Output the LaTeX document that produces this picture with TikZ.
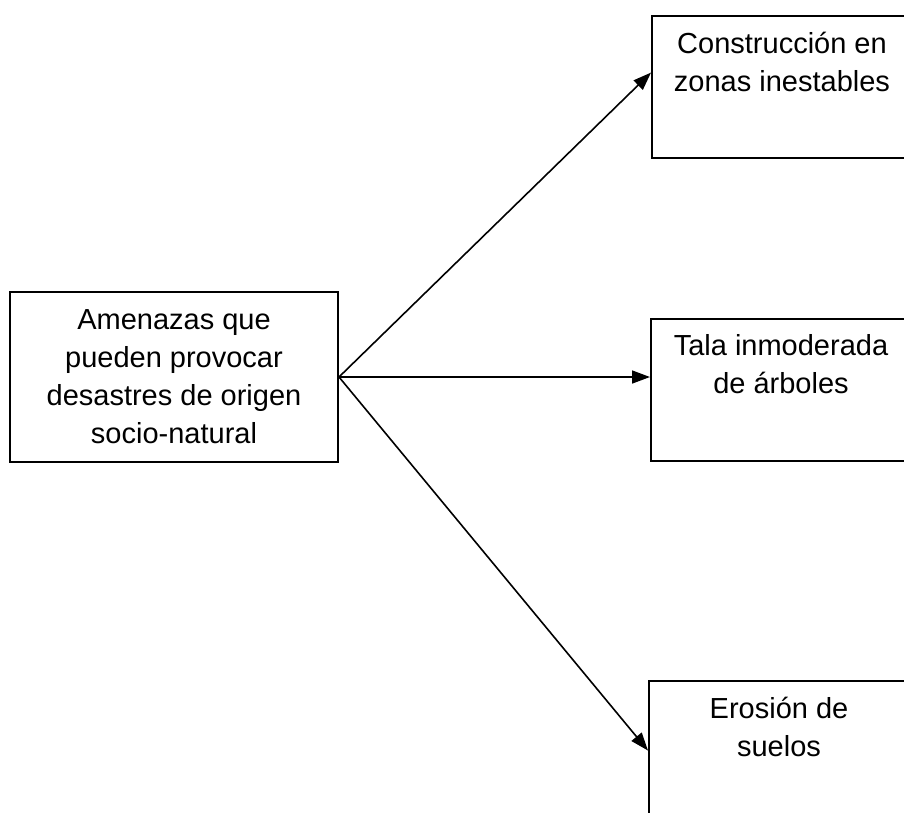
\documentclass[tikz,border=0pt]{standalone}
\usepackage{fontspec}
\setmainfont{Liberation Sans}
\usetikzlibrary{arrows.meta,calc}
\begin{document}
\begin{tikzpicture}[x=1pt,y=-1pt,
  box/.style={draw=black,line width=2pt,rectangle,inner sep=0pt},
  txt/.style={font={\fontsize{29}{38}\selectfont},align=center,inner sep=0pt},
  conn/.style={draw=black,line width=1.6pt,-{Triangle[length=18pt,width=13pt]}}]
\useasboundingbox (0,0) rectangle (904,812);
\fill[white] (0,0) rectangle (904,812);
\node[box,minimum width=328pt,minimum height=170pt,txt] (src) at (174,377)
  {Amenazas que\\pueden provocar\\desastres de origen\\socio-natural};
\node[box,anchor=north west,minimum width=260pt,minimum height=142pt] (b1) at (651,15) {};
\node[box,anchor=north west,minimum width=260pt,minimum height=142pt] (b2) at (650,318) {};
\node[box,anchor=north west,minimum width=260pt,minimum height=142pt] (b3) at (648,680) {};
\node[txt,anchor=north] (t1) at ([yshift=-17pt]b1.north) {Construcción en\\zonas inestables};
\node[txt,anchor=north] (t2) at ([yshift=-16pt]b2.north) {Tala inmoderada\\de árboles};
\node[txt,anchor=north] (t3) at ([yshift=-17pt]b3.north) {Erosión de\\suelos};
\coordinate (e1) at ($(b1.north west)!0.4!(b1.south west)$);
\coordinate (e2) at (b2.west |- src.east);
\coordinate (e3) at ($(b3.north west)!0.49!(b3.south west)$);
\draw[conn] (src.east) -- (e1);
\draw[conn] (src.east) -- (e2);
\draw[conn] (src.east) -- (e3);
\end{tikzpicture}
\end{document}
